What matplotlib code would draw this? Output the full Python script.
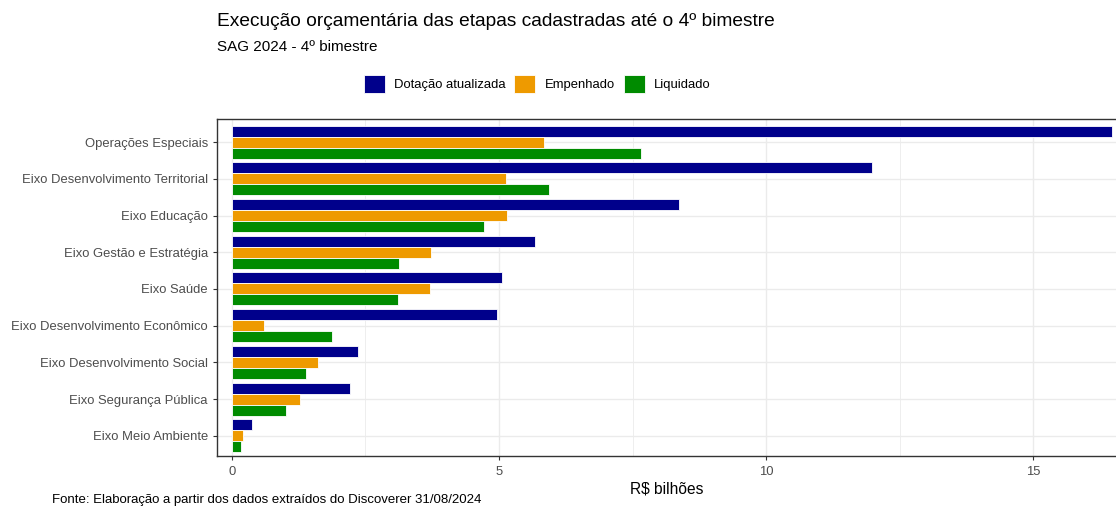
import matplotlib
matplotlib.use("Agg")
import matplotlib.pyplot as plt
import numpy as np

plt.rcParams['font.family'] = ['Liberation Sans', 'DejaVu Sans']

# dados (R$ bilhões)
categorias = ['Operações Especiais', 'Eixo Desenvolvimento Territorial', 'Eixo Educação',
              'Eixo Gestão e Estratégia', 'Eixo Saúde', 'Eixo Desenvolvimento Econômico',
              'Eixo Desenvolvimento Social', 'Eixo Segurança Pública', 'Eixo Meio Ambiente']
dotacao = [16.48, 11.98, 8.37, 5.67, 5.06, 4.96, 2.36, 2.21, 0.37]
empenhado = [5.84, 5.13, 5.15, 3.73, 3.71, 0.60, 1.61, 1.27, 0.21]
liquidado = [7.66, 5.94, 4.72, 3.13, 3.11, 1.87, 1.39, 1.01, 0.17]
series = ['Dotação atualizada', 'Empenhado', 'Liquidado']
cores = ['#00008B', '#EE9A00', '#008B00']

fig = plt.figure(figsize=(11.16, 5.11), dpi=100)
ax = fig.add_axes([217/1116, 1 - 456/511, (1116-217)/1116, (456-119)/511])

y = np.arange(len(categorias))
h = 0.3
for i, (vals, cor, nome) in enumerate(zip([dotacao, empenhado, liquidado], cores, series)):
    ax.barh(y + (i - 1) * h, vals, height=h, color=cor, edgecolor='white',
            linewidth=0.6, label=nome, zorder=3)

ax.set_xlim(-0.28, 16.55)
ax.set_ylim(8.55, -0.63)
ax.set_yticks(y)
ax.set_yticklabels(categorias)
ax.set_xticks([0, 5, 10, 15])
ax.set_xticks([2.5, 7.5, 12.5], minor=True)
ax.grid(True, which='major', color='#EBEBEB', linewidth=1.0, zorder=0)
ax.grid(True, which='minor', axis='x', color='#EBEBEB', linewidth=0.6, zorder=0)
ax.tick_params(axis='both', which='major', labelsize=9.4, labelcolor='#4D4D4D',
               color='#333333', length=3, width=0.8)
ax.tick_params(axis='x', which='minor', length=0)
ax.tick_params(axis='x', pad=4)
ax.spines['right'].set_visible(False)
for s in ['left', 'bottom', 'top']:
    ax.spines[s].set_color('#333333')
    ax.spines[s].set_linewidth(1.0)
ax.set_xlabel('R$ bilhões', fontsize=11.2, labelpad=3)

fig.text(217/1116, 1 - 22/511, 'Execução orçamentária das etapas cadastradas até o 4º bimestre',
         fontsize=13.8, va='center', ha='left')
fig.text(217/1116, 1 - 47/511, 'SAG 2024 - 4º bimestre', fontsize=11, va='center', ha='left')
fig.text(52/1116, 1 - 500/511, 'Fonte: Elaboração a partir dos dados extraídos do Discoverer 31/08/2024',
         fontsize=9.5, va='center', ha='left')

handles, labels = ax.get_legend_handles_labels()
fig.legend(handles, labels, loc='center', bbox_to_anchor=(537/1116, 1 - 84/511), ncol=3,
           frameon=False, fontsize=9.4, handlelength=1.6, handleheight=1.7,
           columnspacing=0.7, handletextpad=0.7)

fig.savefig('out.png', dpi=100)
